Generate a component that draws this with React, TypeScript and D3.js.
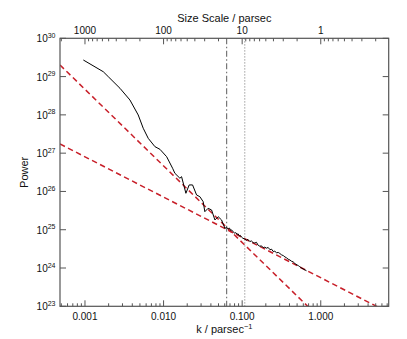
import React from "react";
import * as d3 from "d3";

const curveK = [
  9.53e-4, 1.71e-3, 1.98e-3, 2.79e-3, 3.73e-3, 4.76e-3, 5.51e-3, 6.38e-3, 7.76e-3, 8.99e-3,
  1.094e-2, 1.303e-2, 1.393e-2, 1.614e-2, 1.694e-2, 1.923e-2, 2.118e-2, 2.339e-2, 2.63e-2, 2.897e-2,
  3.19e-2, 3.35e-2, 3.69e-2, 4.08e-2, 4.5e-2, 4.95e-2, 5.47e-2, 6.03e-2,
  0.0634, 0.0664, 0.069, 0.0715, 0.0733, 0.076, 0.0785, 0.0807, 0.083, 0.086, 0.0889, 0.092, 0.095,
  0.0982, 0.102, 0.108, 0.113, 0.118, 0.125, 0.131, 0.138, 0.145, 0.152, 0.16, 0.168, 0.176, 0.185,
  0.194, 0.204, 0.214, 0.226, 0.237, 0.248, 0.26, 0.274, 0.288, 0.301, 0.318, 0.335, 0.35, 0.366,
  0.385, 0.405, 0.425, 0.445, 0.47, 0.5, 0.52, 0.541, 0.57, 0.6, 0.63, 0.658,
];
const curveP = [
  2.71e29, 1.34e29, 9.93e28, 4.94e28, 2.45e28, 9.93e27, 4.47e27, 2.44e27, 1.48e27, 1.26e27,
  8.09e26, 4.03e26, 2.98e26, 2.21e26, 2.43e26, 8.95e25, 1.48e26, 1.48e26, 8.09e25, 7.29e25,
  5.41e25, 2.96e25, 3.63e25, 3.28e25, 1.8e25, 2.19e25, 1.8e25, 1.09e25,
  1.15e25, 1.05e25, 1.1e25, 9.6e24, 9.9e24, 9.0e24, 8.5e24, 8.1e24, 8.4e24, 7.6e24, 7.8e24, 6.9e24, 7.1e24,
  6.4e24, 6.0e24, 5.7e24, 5.3e24, 5.6e24, 4.9e24, 5.1e24, 4.6e24, 4.5e24, 4.7e24, 3.9e24, 3.7e24, 3.8e24, 3.4e24,
  3.5e24, 3.3e24, 3.45e24, 3.0e24, 3.1e24, 2.7e24, 2.75e24, 2.5e24, 2.55e24, 2.4e24, 2.2e24, 2.1e24, 1.95e24, 1.85e24,
  1.7e24, 1.62e24, 1.5e24, 1.45e24, 1.3e24, 1.2e24, 1.15e24, 1.08e24, 1.0e24, 9.4e23, 8.9e23, 8.5e23,
];

// power-law fits: P = amp * k^slope
const fitAmps = [10 ** 22.667, 10 ** 23.746];
const fitSlopes = [-2.0, -1.053];

const verticalK = [0.0634, 0.108];

const xTickValues = [0.001, 0.01, 0.1, 1];
const xTickLabels = ["0.001", "0.010", "0.100", "1.000"];
const topTickSizes = [1000, 100, 10, 1];
const topTickLabels = ["1000", "100", "10", "1"];
const yExponents = [23, 24, 25, 26, 27, 28, 29, 30];

const W = 407;
const H = 339;
const L = 60, R = 388.7, T = 38.3, B = 306.3;
const FONT = "'Liberation Sans', Arial, Helvetica, sans-serif";

export default function App() {
  const kMin = Math.pow(10, -3 - 25 / 78.67);
  const kMax = Math.pow(10, 68 / 78.67);
  const x = d3.scaleLog().domain([kMin, kMax]).range([L, R]);
  const y = d3.scaleLog().domain([1e23, 1e30]).range([B, T]);

  const line = d3
    .line<number>()
    .x((_, i) => x(curveK[i]))
    .y((_, i) => y(curveP[i]));
  const curvePath = line(curveK) || "";

  const fitPaths = fitAmps.map((a, j) => {
    const ks = [kMin, kMax];
    const pts = ks.map((k) => [x(k), y(a * Math.pow(k, fitSlopes[j]))] as [number, number]);
    return d3.line()(pts) || "";
  });

  const minorK: number[] = [];
  for (let e = -4; e <= 1; e++) {
    for (let m = 2; m <= 9; m++) {
      const v = m * Math.pow(10, e);
      if (v > kMin && v < kMax) minorK.push(v);
    }
  }
  const minorSize: number[] = [];
  for (let e = -1; e <= 4; e++) {
    for (let m = 2; m <= 9; m++) {
      const s = m * Math.pow(10, e);
      const k = 1 / s;
      if (k > kMin && k < kMax) minorSize.push(k);
    }
  }

  const axisColor = "#555";
  const red = "#c8202a";

  return (
    <svg width={W} height={H} style={{ position: "absolute", left: 0, top: 0, background: "#fff" }} fontFamily={FONT}>
      <defs>
        <clipPath id="plot">
          <rect x={L} y={T} width={R - L} height={B - T} />
        </clipPath>
      </defs>
      <line x1={x(verticalK[0])} x2={x(verticalK[0])} y1={T} y2={B} stroke="#777" strokeWidth={1.2} strokeDasharray="6,2.5,1.5,2.5" />
      <line x1={x(verticalK[1])} x2={x(verticalK[1])} y1={T} y2={B} stroke="#888" strokeWidth={1} strokeDasharray="1.2,1.8" />
      <g clipPath="url(#plot)">
        {fitPaths.map((d, i) => (
          <path key={i} d={d} fill="none" stroke={red} strokeWidth={1.5} strokeDasharray="5.5,3.5" />
        ))}
        <path d={curvePath} fill="none" stroke="#000" strokeWidth={1} strokeLinejoin="round" />
      </g>
      <rect x={L} y={T} width={R - L} height={B - T} fill="none" stroke={axisColor} strokeWidth={1.2} />
      {xTickValues.map((v) => (
        <line key={"bM" + v} x1={x(v)} x2={x(v)} y1={B} y2={B - 6} stroke={axisColor} strokeWidth={1} />
      ))}
      {minorK.map((v) => (
        <line key={"bm" + v} x1={x(v)} x2={x(v)} y1={B} y2={B - 3} stroke={axisColor} strokeWidth={1} />
      ))}
      {xTickValues.map((v, i) => (
        <text key={"bl" + v} x={x(v)} y={320} fontSize={10} textAnchor="middle" fill="#111">
          {xTickLabels[i]}
        </text>
      ))}
      {topTickSizes.map((s) => (
        <line key={"tM" + s} x1={x(1 / s)} x2={x(1 / s)} y1={T} y2={T + 6} stroke={axisColor} strokeWidth={1} />
      ))}
      {minorSize.map((k) => (
        <line key={"tm" + k} x1={x(k)} x2={x(k)} y1={T} y2={T + 3} stroke={axisColor} strokeWidth={1} />
      ))}
      {topTickSizes.map((s, i) => (
        <text key={"tl" + s} x={x(1 / s)} y={33.5} fontSize={10} textAnchor="middle" fill="#111">
          {topTickLabels[i]}
        </text>
      ))}
      {yExponents.map((e) => {
        const yy = y(Math.pow(10, e));
        return (
          <g key={"y" + e}>
            <line x1={L} x2={L + 6} y1={yy} y2={yy} stroke={axisColor} strokeWidth={1} />
            <line x1={R} x2={R - 6} y1={yy} y2={yy} stroke={axisColor} strokeWidth={1} />
            <text x={55.5} y={yy + 4} fontSize={10} textAnchor="end" fill="#111">
              10<tspan dy={-4.5} fontSize={7}>{e}</tspan>
            </text>
          </g>
        );
      })}
      <text x={(L + R) / 2} y={21.5} fontSize={11} textAnchor="middle" fill="#111">
        Size Scale / parsec
      </text>
      <text x={(L + R) / 2} y={333} fontSize={11} textAnchor="middle" fill="#111">
        k / parsec<tspan dy={-4.5} fontSize={7.5}>−1</tspan>
      </text>
      <text transform={`translate(28,${(T + B) / 2}) rotate(-90)`} fontSize={11} textAnchor="middle" fill="#111">
        Power
      </text>
    </svg>
  );
}
